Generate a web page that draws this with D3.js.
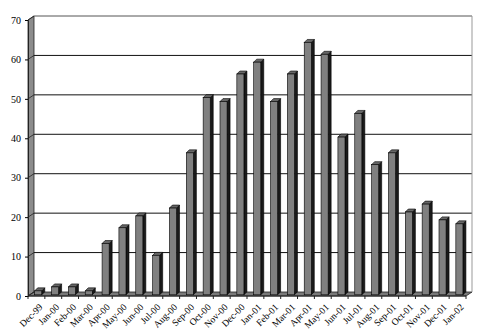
<!DOCTYPE html>
<html><head><meta charset="utf-8">
<script src="https://cdn.jsdelivr.net/npm/d3@7/dist/d3.min.js"></script>
<style>body{margin:0;background:#fff}svg{display:block}</style>
</head><body><svg id="c" width="488" height="331"></svg>
<script>
const categories = ["Dec-99","Jan-00","Feb-00","Mar-00","Apr-00","May-00","Jun-00","Jul-00","Aug-00","Sep-00","Oct-00","Nov-00","Dec-00","Jan-01","Feb-01","Mar-01","Apr-01","May-01","Jun-01","Jul-01","Aug-01","Sep-01","Oct-01","Nov-01","Dec-01","Jan-02"];
const values = [1,2,2,1,13,17,20,10,22,36,50,49,56,59,49,56,64,61,40,46,33,36,21,23,19,18];
const yTicks = [0,10,20,30,40,50,60,70];

const svg = d3.select("#c");
const x0 = 28, x1 = 466, yTop = 20, yBot = 296;
const DX = 6, DY = -4;
const x = d3.scaleBand().domain(categories).range([x0, x1]).paddingInner(0.58).paddingOuter(0.29);
const xb = d3.scaleBand().domain(categories).range([x0, x1]);
const y = d3.scaleLinear().domain([0, 70]).range([yBot, yTop]);

// left wall
svg.append("path").attr("d", `M${x0},${y(70)}L${x0+DX},${y(70)+DY}L${x0+DX},${y(0)+DY}L${x0},${y(0)}Z`)
  .attr("fill", "#8c8c8c").attr("stroke", "#222").attr("stroke-width", 0.8);
// floor
svg.append("path").attr("d", `M${x0},${y(0)}L${x0+DX},${y(0)+DY}L${x1+DX},${y(0)+DY}L${x1},${y(0)}Z`)
  .attr("fill", "#7a7a7a").attr("stroke", "#222").attr("stroke-width", 0.8);
// back wall gridlines
svg.selectAll(".grid").data(yTicks.filter(d => d > 0)).join("line")
  .attr("x1", x0 + DX).attr("x2", x1 + DX)
  .attr("y1", d => y(d) + DY).attr("y2", d => y(d) + DY)
  .attr("stroke", d => d === 70 ? "#555" : "#111").attr("stroke-width", 1);
// right edge of back wall
svg.append("line").attr("x1", x1 + DX).attr("x2", x1 + DX).attr("y1", y(70) + DY).attr("y2", y(0) + DY)
  .attr("stroke", "#999").attr("stroke-width", 1);
// left wall tick diagonals
svg.selectAll(".diag").data(yTicks).join("line")
  .attr("x1", x0).attr("x2", x0 + DX).attr("y1", d => y(d)).attr("y2", d => y(d) + DY)
  .attr("stroke", "#222").attr("stroke-width", 0.8);

// y axis
const ya = svg.append("g").attr("transform", `translate(${x0},0)`)
  .call(d3.axisLeft(y).tickValues(yTicks).tickSize(3).tickPadding(4));
ya.select(".domain").attr("stroke", "#222");
ya.selectAll("text").attr("font-family", "Liberation Serif, Times New Roman, serif").attr("font-size", 10).attr("fill", "#000");

// x axis ticks
const xa = svg.append("g").attr("transform", `translate(0,${yBot})`);
xa.selectAll("line").data(d3.range(categories.length + 1)).join("line")
  .attr("x1", i => x0 + i * xb.step()).attr("x2", i => x0 + i * xb.step())
  .attr("y1", 0).attr("y2", 3).attr("stroke", "#222");
xa.append("line").attr("x1", x0).attr("x2", x1).attr("stroke", "#222");
xa.selectAll("text").data(categories).join("text")
  .attr("transform", d => `translate(${xb(d) + xb.bandwidth() / 2 + 2},${7}) rotate(-45)`)
  .attr("text-anchor", "end").attr("dy", "0.7em")
  .attr("font-family", "Liberation Serif, Times New Roman, serif").attr("font-size", 9.5)
  .text(d => d);

// bars
const bd = 0.3, bdx = DX * bd, bdy = DY * bd;
const sx = 3, sy = -3;
const bars = svg.append("g").selectAll("g").data(categories).join("g");
bars.each(function (c, i) {
  const g = d3.select(this);
  const l = x(c) + bdx, w = x.bandwidth(), t = y(values[i]) + bdy, b = y(0) + bdy;
  g.append("path").attr("d", `M${l+w},${t}L${l+w+sx},${t+sy}L${l+w+sx},${b+sy}L${l+w},${b}Z`)
    .attr("fill", "#1a1a1a").attr("stroke", "#000").attr("stroke-width", 0.6);
  g.append("path").attr("d", `M${l},${t}L${l+sx},${t+sy}L${l+w+sx},${t+sy}L${l+w},${t}Z`)
    .attr("fill", "#666").attr("stroke", "#000").attr("stroke-width", 0.6);
  g.append("rect").attr("x", l).attr("y", t).attr("width", w).attr("height", b - t)
    .attr("fill", "#808080").attr("stroke", "#000").attr("stroke-width", 0.6);
});
</script></body></html>
